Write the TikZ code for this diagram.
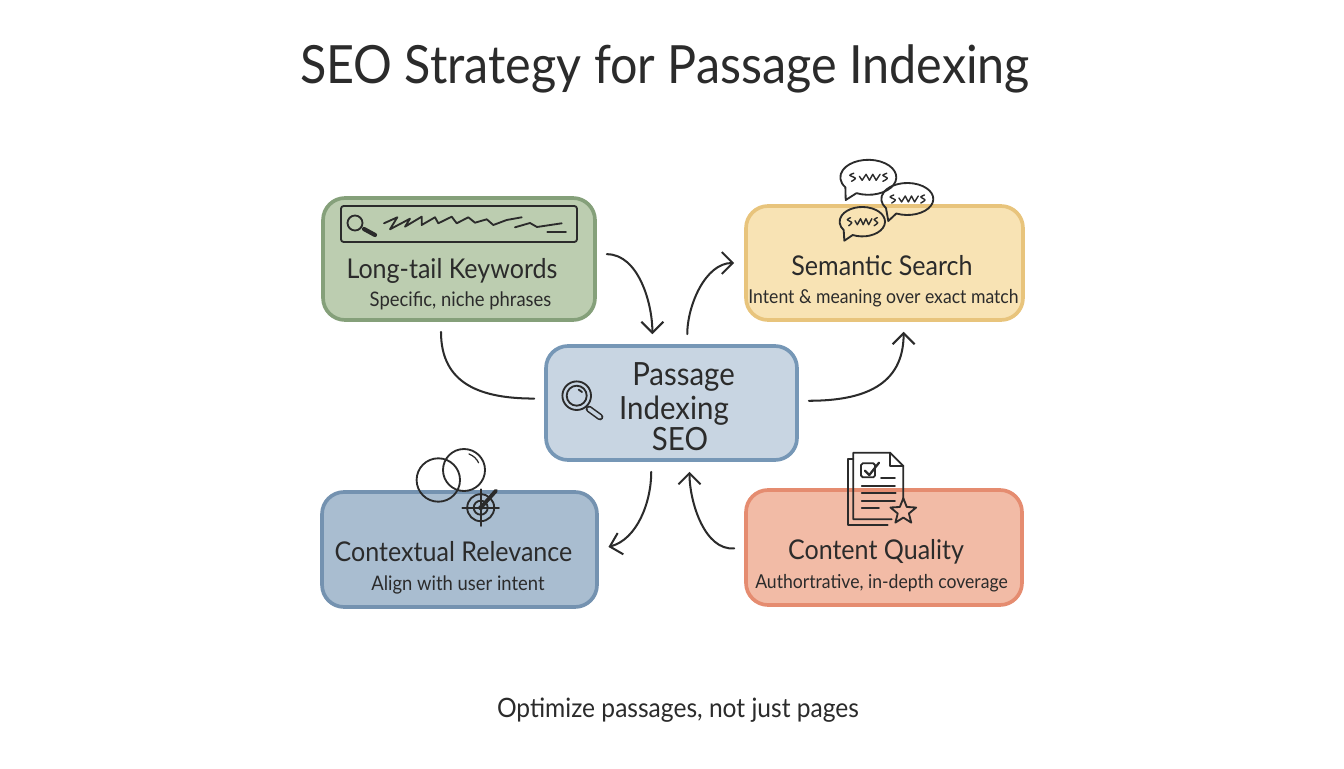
\documentclass[tikz,border=0pt]{standalone}
\usepackage{fontspec}
\setmainfont[FakeStretch=0.92]{Lato}
\usepackage{tikz}
\usetikzlibrary{arrows.meta, shapes.geometric}
\definecolor{inkc}{HTML}{2B2B2B}
\definecolor{greenf}{HTML}{BCCDB0}
\definecolor{greend}{HTML}{85A07A}
\definecolor{yellowf}{HTML}{F8E3B4}
\definecolor{yellowd}{HTML}{E8C47C}
\definecolor{bluef}{HTML}{A9BDD0}
\definecolor{blued}{HTML}{7492B0}
\definecolor{redf}{HTML}{F2BBA6}
\definecolor{redd}{HTML}{E58C70}
\definecolor{midf}{HTML}{C8D5E2}
\definecolor{midd}{HTML}{7697B6}
\tikzstyle{box}=[inner sep=0pt, draw, shape=rectangle, rounded corners=0.44cm, line width=2.1pt]
\tikzstyle{ink}=[draw=inkc, line width=1.05pt, line cap=round, line join=round]
\tikzstyle{head}=[text=inkc, font=\fontsize{15.5}{18}\selectfont, anchor=base, inner sep=0pt]
\tikzstyle{mid}=[text=inkc, font=\fontsize{18.2}{21}\selectfont, anchor=base, inner sep=0pt]
\tikzstyle{sub}=[text=inkc, font=\fontsize{11.4}{14}\selectfont, anchor=base, inner sep=0pt]
\tikzstyle{subwide}=[text=inkc, font=\fontsize{10.9}{14}\selectfont, anchor=base, inner sep=0pt]
\tikzstyle{link}=[draw=inkc, line width=1.15pt, line cap=round, shorten <=0.2cm, shorten >=0.2cm]
\tikzset{>={Straight Barb[length=2.2mm,width=4.4mm]}}
% one speech bubble: centre x, y, radii, tail tip
\newcommand{\bubble}[6]{
\draw[ink] (#1,#2) ++(245:#3 and #4) arc[start angle=245, end angle=575, x radius=#3, y radius=#4] -- (#5,#6) -- cycle;
\draw[ink, line width=0.8pt, smooth] plot coordinates {(#1-0.52*#3,#2+4) (#1-0.66*#3,#2+2) (#1-0.46*#3,#2-1) (#1-0.6*#3,#2-4)};
\draw[ink, line width=0.8pt] (#1-0.32*#3,#2+1) -- (#1-0.22*#3,#2-3) -- (#1-0.08*#3,#2+3) -- (#1+0.04*#3,#2-3) -- (#1+0.16*#3,#2+3) -- (#1+0.28*#3,#2-3) -- (#1+0.42*#3,#2+3);
\draw[ink, line width=0.8pt, smooth] plot coordinates {(#1+0.66*#3,#2+4) (#1+0.52*#3,#2+2) (#1+0.68*#3,#2-1) (#1+0.52*#3,#2-4)};
}

\begin{document}
\begin{tikzpicture}[x=0.02cm, y=0.02cm]
\useasboundingbox (0,0) rectangle (1344,768);
% the central box and the four outer boxes
\node[box, fill=midf, draw=midd, minimum width=5.02cm, minimum height=2.28cm] (C) at (671.5,365) {};
\node[box, fill=greenf, draw=greend, minimum width=5.44cm, minimum height=2.44cm] (K) at (459,509) {};
\node[box, fill=yellowf, draw=yellowd, minimum width=5.54cm, minimum height=2.28cm] (S) at (884.5,505) {};
\node[box, fill=bluef, draw=blued, minimum width=5.5cm, minimum height=2.3cm] (R) at (459.5,218.5) {};
\node[box, fill=redf, draw=redd, minimum width=5.52cm, minimum height=2.3cm] (Q) at (884,220.5) {};
% the title and the closing line
\node[text=inkc, font=\fontsize{30}{36}\selectfont, anchor=base, inner sep=0pt] (title) at (665,684) {SEO Strategy for Passage Indexing};
\node[text=inkc, font=\fontsize{15.2}{18}\selectfont, anchor=base, inner sep=0pt] (foot) at (678,51) {Optimize passages, not just pages};
% the box texts
\node[head] (K1) at (452,489) {Long-tail Keywords};
\node[sub] (K2) at (460.5,461) {Specific, niche phrases};
\node[head] (S1) at (882,492) {Semantic Search};
\node[subwide] (S2) at (883.5,464) {Intent \& meaning over exact match};
\node[mid] (C1) at (683.5,383) {Passage};
\node[mid] (C2) at (674,349) {Indexing};
\node[mid] (C3) at (680,318) {SEO};
\node[head] (R1) at (453.5,207) {Contextual Relevance};
\node[sub] (R2) at (458,178) {Align with user intent};
\node[head] (Q1) at (876,209) {Content Quality};
\node[subwide] (Q2) at (881.5,180) {Authortrative, in-depth coverage};
% the connectors
\draw[link, ->] (K.2) to[out=0, in=90] (C.108);
\draw[link, ->] (C.75) to[out=90, in=180] (S.west);
\draw[link] (K.254) to[out=270, in=180, looseness=1.25] (C.178);
\draw[link, ->] (C.1) to[out=0, in=270, looseness=1.25] (S.288);
\draw[link, ->] (C.251) to[out=270, in=15] (R.east);
\draw[link, ->] (Q.west) to[out=185, in=270] (C.287);
% the search bar
\draw[ink, rounded corners=1.5pt] (341,526) rectangle (577,562);
\draw[ink] (355,545) circle (7.5);
\draw[ink, line width=2.4pt] (364,539) -- (375,533);
\draw[ink] (384,544.7) -- (397.3,550.7) -- (390,538.7) -- (410,549.3) -- (405,541.3) -- (421.7,551.3) -- (421.7,543) -- (435,550.7) -- (438.3,544.7) -- (451.7,551.3) -- (456.7,544.7) -- (468.3,550.7) -- (475,545.3) -- (486.7,548.7) -- (493.3,543) -- (506.7,548) -- (521.7,550.7);
\draw[ink] (515,540.7) -- (530,545) -- (537,541) -- (561.7,544.7);
\draw[ink] (547.3,536) -- (566,536);
% the three speech bubbles
\bubble{868.3}{590.7}{28}{17.5}{845.7}{568}
\bubble{907.3}{569}{26}{16}{888.3}{547}
\bubble{862.3}{546.3}{22.7}{14.7}{844.3}{527.3}
% the central magnifier
\draw[ink] (576.7,372.3) circle (14.3);
\draw[ink] (576.7,372.3) circle (10);
\draw[ink] (582,376) arc[start angle=35, end angle=75, radius=6];
\draw[ink, line width=3.8pt] (589,359) -- (600,351);
\draw[draw=midf, line width=2pt, line cap=round] (589,359) -- (600,351);
% the overlapping circles and the target
\draw[ink] (438.3,288) circle (21.7);
\draw[ink] (464,298) circle (21);
\draw[ink, line width=0.7pt] (469,314) arc[start angle=70, end angle=25, radius=17];
\draw[ink] (480.7,260.3) circle (13.5);
\draw[ink] (480.7,260.3) circle (7);
\fill[inkc] (480.7,260.3) circle (2.5);
\draw[ink] (462.4,260.3) -- (499,260.3);
\draw[ink] (480.7,242) -- (480.7,278.6);
\draw[ink, line width=2.2pt] (480.7,260.3) -- (496,277.3);
% the document and its star
\draw[ink] (891.7,248.7) -- (853.3,248.7) -- (853.3,315.3) -- (890,315.3) -- (903.3,302) -- (903.3,268);
\draw[ink] (890,315.3) -- (890,302) -- (903.3,302);
\draw[ink] (853.3,308.7) -- (847.7,308.7) -- (847.7,243) -- (887.7,243);
\draw[ink, rounded corners=1pt] (861,290.7) rectangle (875,304.7);
\draw[ink, line width=1.3pt] (865,297.3) -- (869.3,293) -- (879,305.3);
\draw[ink] (881,289.7) -- (895,289.7);
\foreach \ypos/\xend in {282.3/895, 275.3/895.7, 267.3/895, 260.3/879}
  \draw[ink] (861.7,\ypos) -- (\xend,\ypos);
\node[star, star points=5, star point ratio=2.3, ink, fill=redf, inner sep=0pt, minimum size=0.54cm] (Qstar) at (903.3,256.3) {};
\end{tikzpicture}
\end{document}
